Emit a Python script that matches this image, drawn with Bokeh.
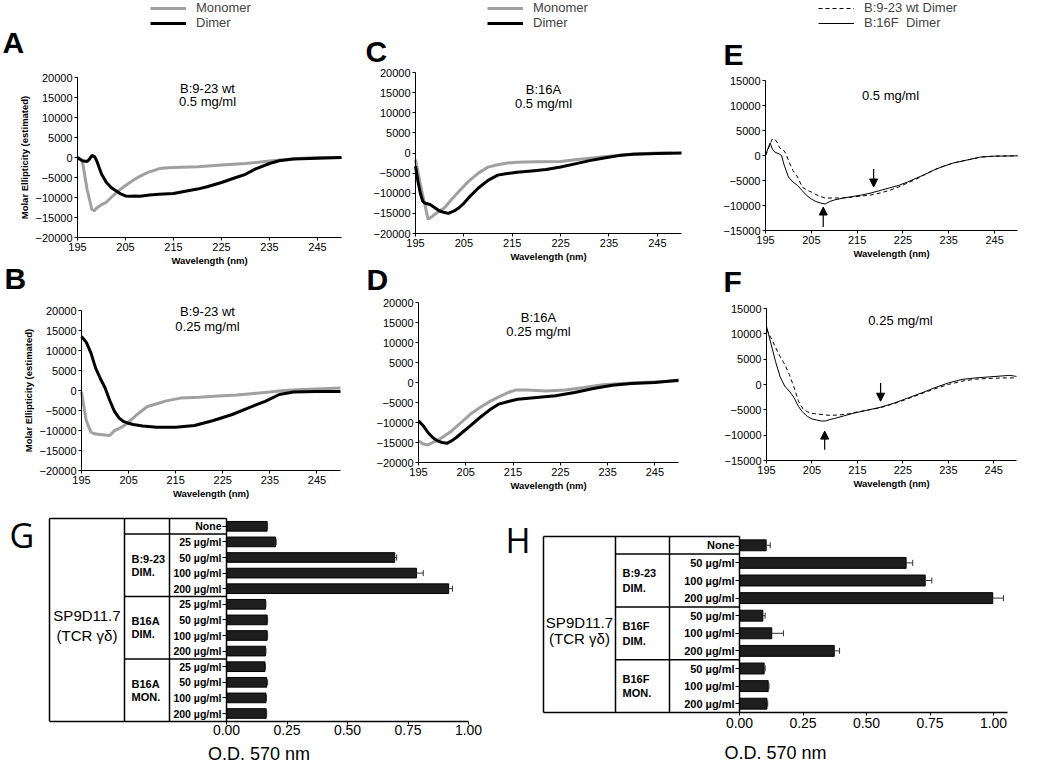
from bokeh.plotting import figure
from bokeh.models import (Range1d, FixedTicker, Label, Legend, LegendItem, Arrow, LinearAxis,
                          NormalHead, Whisker, TeeHead, ColumnDataSource, NumeralTickFormatter)
from bokeh.embed import file_html
from bokeh.resources import INLINE

# ---------------- data ----------------
WL_TICKS = [195, 205, 215, 225, 235, 245]

A_mono_wl = [195, 196, 197, 198, 198.5, 199, 200, 201, 202, 203, 204, 205, 206, 207, 208, 209, 210, 211, 212, 213, 215, 220, 225, 230, 235, 240, 245, 250]
A_mono = [0, -800, -8000, -13000, -13300, -12600, -11800, -11200, -10000, -8900, -7900, -7000, -6200, -5400, -4700, -4100, -3600, -3200, -2800, -2600, -2500, -2300, -1900, -1500, -900, -300, 0, 0]
A_dim_wl = [195, 196, 197, 197.5, 198, 198.5, 199, 200, 201, 202, 203, 204, 205, 206, 207, 208, 210, 212, 215, 218, 220, 222, 225, 228, 230, 232, 235, 237, 240, 245, 250]
A_dim = [0, -800, -1000, -400, 500, 300, -800, -4100, -6200, -7500, -8300, -9100, -9600, -9700, -9600, -9700, -9400, -9200, -9000, -8300, -7900, -7300, -6250, -5000, -4200, -2900, -1500, -800, -400, -200, 0]

B_mono_wl = [195, 196, 197, 198, 199, 200, 201, 202, 203, 204, 205, 207, 209, 211, 213, 216, 220, 224, 228, 231, 235, 238, 242, 250]
B_mono = [-400, -7500, -10400, -10900, -11000, -11100, -11250, -10000, -9500, -8800, -7900, -5800, -4000, -3300, -2600, -1900, -1700, -1400, -1100, -800, -400, 0, 250, 600]
B_dim_wl = [195, 196, 197, 198, 199, 200, 201, 202, 203, 204, 205, 206, 208, 211, 215, 219, 223, 227, 231, 234, 237, 240, 245, 250]
B_dim = [13500, 12100, 9400, 5600, 3000, 700, -2500, -5200, -6900, -7800, -8200, -8500, -8900, -9200, -9200, -8750, -7500, -6000, -4100, -2700, -1000, -400, -250, -250]

C_mono_wl = [195, 196, 197, 197.6, 198.5, 199.5, 201, 202.5, 204, 206, 208, 210, 212, 214, 216, 220, 225, 228, 232, 236, 240, 245, 248]
C_mono = [-1650, -7800, -13200, -16500, -15700, -14800, -13600, -11500, -9500, -7000, -5000, -3500, -2900, -2500, -2300, -2200, -2100, -1650, -1200, -660, -250, 0, 0]
C_dim_wl = [195, 195.5, 196, 196.5, 197, 198, 199, 200, 201, 201.8, 203, 204, 205, 206, 208, 210, 212, 214, 216, 219, 222, 225, 228, 231, 234, 237, 240, 245, 250]
C_dim = [-3300, -7000, -10000, -12000, -12500, -12800, -13600, -14400, -14800, -15000, -14400, -13600, -12500, -11100, -8700, -6800, -5500, -5100, -4800, -4450, -4100, -3500, -2700, -1900, -1250, -650, -330, -100, 0]

D_mono_wl = [195, 196, 197, 198, 199, 200, 202, 204, 206, 208, 210, 212, 214, 215.5, 218, 222, 226, 230, 234, 238, 242, 246, 250]
D_mono = [-14600, -15400, -15600, -15000, -14400, -13750, -12100, -10000, -7900, -6250, -4800, -3600, -2500, -1900, -1900, -2100, -1900, -1250, -580, -250, 0, 170, 420]
D_dim_wl = [195, 196, 197, 198, 199, 200, 201, 202, 203, 204, 206, 208, 210, 212, 214, 216, 220, 224, 228, 232, 236, 240, 245, 250]
D_dim = [-9600, -10800, -12500, -13750, -14600, -15000, -15200, -14600, -13750, -12750, -10800, -8750, -6900, -5400, -4750, -4200, -3750, -3300, -2500, -1500, -670, -250, 0, 580]

E_wt_wl = [195, 195.5, 196, 196.5, 197, 197.5, 198, 198.5, 199, 199.5, 200, 201, 202, 203, 204, 205, 206, 207, 208, 210, 212, 214, 216, 218, 220, 222, 224, 226, 228, 230, 232, 234, 236, 238, 240, 242, 245, 250]
E_wt = [0, 1000, 2300, 3300, 3300, 2700, 1700, 1100, 1000, 300, -1000, -3000, -4300, -6300, -6900, -7300, -7800, -8200, -8500, -8500, -8500, -8300, -8100, -7900, -7500, -7000, -6300, -5500, -4700, -3700, -2800, -2100, -1500, -1100, -700, -300, -130, -70]
E_f_wl = [195, 195.5, 196, 196.5, 197, 198, 198.5, 199, 200, 201, 202, 203, 204, 205, 206, 207, 208, 209, 210, 212, 214, 216, 218, 220, 222, 224, 226, 228, 230, 232, 234, 236, 238, 240, 242, 245, 250]
E_f = [0, 1300, 2500, 1300, 700, 300, 0, -1700, -4300, -5300, -6000, -7000, -8000, -8700, -9200, -9500, -9700, -9200, -8900, -8500, -8200, -7900, -7500, -7000, -6500, -6000, -5300, -4500, -3700, -2800, -2100, -1500, -1100, -700, -300, -130, -70]

F_wt_wl = [195, 196, 197, 198, 199, 200, 201, 202, 203, 204, 205, 207, 209, 211, 213, 215, 217, 220, 223, 226, 229, 232, 235, 238, 241, 244, 247, 250]
F_wt = [10900, 9200, 7300, 5500, 4000, 2000, -400, -3200, -4800, -5400, -5700, -5900, -6100, -6000, -5800, -5400, -5100, -4600, -3800, -2850, -1850, -860, 0, 660, 1050, 1200, 1300, 1300]
F_f_wl = [195, 196, 197, 198, 199, 200, 201, 202, 203, 204, 205, 206, 207, 208, 209, 210, 212, 214, 217, 220, 223, 226, 229, 232, 235, 238, 241, 244, 247, 248.5, 250]
F_f = [11500, 8000, 4500, 1500, -300, -1300, -2500, -4300, -5500, -6300, -6800, -7000, -7200, -7200, -6900, -6700, -6200, -5700, -5100, -4500, -3700, -2700, -1700, -650, 300, 1000, 1300, 1500, 1700, 1800, 1600]

# arrows: (wavelength, y_start, y_end)
E_arrows = [(218.6, -2700, -6300), (207.6, -14300, -10300)]
F_arrows = [(220.1, 300, -3300), (207.8, -12900, -9200)]

G_rows = ["None", "25 \u00b5g/ml", "50 \u00b5g/ml", "100 \u00b5g/ml", "200 \u00b5g/ml",
          "25 \u00b5g/ml", "50 \u00b5g/ml", "100 \u00b5g/ml", "200 \u00b5g/ml",
          "25 \u00b5g/ml", "50 \u00b5g/ml", "100 \u00b5g/ml", "200 \u00b5g/ml"]
G_vals = [0.168, 0.203, 0.695, 0.785, 0.918, 0.161, 0.168, 0.168, 0.161, 0.159, 0.166, 0.163, 0.164]
G_err = [0.002, 0.002, 0.008, 0.028, 0.016, 0.002, 0.002, 0.002, 0.002, 0.002, 0.004, 0.002, 0.002]
G_groups = [("B:9-23", "DIM.", 1, 4), ("B16A", "DIM.", 5, 8), ("B16A", "MON.", 9, 12)]

H_rows = ["None", "50 \u00b5g/ml", "100 \u00b5g/ml", "200 \u00b5g/ml",
          "50 \u00b5g/ml", "100 \u00b5g/ml", "200 \u00b5g/ml",
          "50 \u00b5g/ml", "100 \u00b5g/ml", "200 \u00b5g/ml"]
H_vals = [0.105, 0.656, 0.731, 0.997, 0.092, 0.127, 0.373, 0.097, 0.113, 0.108]
H_err = [0.016, 0.026, 0.026, 0.042, 0.009, 0.046, 0.021, 0.004, 0.003, 0.003]
H_groups = [("B:9-23", "DIM.", 1, 3), ("B16F", "DIM.", 4, 6), ("B16F", "MON.", 7, 9)]

OD_TICKS = [0, 0.25, 0.5, 0.75, 1.0]

SANS = "Liberation Sans"
GRAY = "#a0a0a0"
W, H = 1048, 778

# One canvas; the default ranges are page pixels (y downwards); each panel has its own ranges.
p = figure(width=W, height=H, x_range=Range1d(0, W), y_range=Range1d(H, 0),
           output_backend="svg", toolbar_location=None, min_border=0,
           x_axis_type=None, y_axis_type=None)
p.outline_line_color = None


def text(x, y, s, size, bold=False, align="left", baseline="middle", font=SANS, xr="default", yr="default"):
    p.add_layout(Label(x=x, y=y, text=s, text_font=font, text_font_size=size,
                       text_font_style="bold" if bold else "normal", text_align=align,
                       text_baseline=baseline, text_color="black",
                       x_range_name=xr, y_range_name=yr))


def style_axis(ax, tick_size, tick_out, tick_standoff, lab_size, lab_bold, lab_standoff, lw=1):
    ax.major_label_text_font = SANS
    ax.major_label_text_font_size = tick_size
    ax.major_label_text_color = "black"
    ax.axis_line_color = "black"
    ax.axis_line_width = lw
    ax.major_tick_line_color = "black"
    ax.major_tick_line_width = 1
    ax.minor_tick_line_color = None
    ax.major_tick_in = 0
    ax.major_tick_out = tick_out
    ax.major_label_standoff = tick_standoff
    ax.axis_label_text_font = SANS
    ax.axis_label_text_font_style = "bold" if lab_bold else "normal"
    ax.axis_label_text_font_size = lab_size
    ax.axis_label_text_color = "black"
    ax.axis_label_standoff = lab_standoff


def cd_panel(name, FL, FR, FT, FB, ylo, yhi, ystep, ylabel=None):
    s = (FR - FL) / 55.0
    k = (yhi - ylo) / float(FB - FT)
    xn, yn = name + "x", name + "y"
    p.extra_x_ranges[xn] = Range1d(195 - FL / s, 195 + (W - FL) / s)
    p.extra_y_ranges[yn] = Range1d(ylo + (FB - H) * k, ylo + FB * k)
    xa = LinearAxis(x_range_name=xn, y_range_name=yn, fixed_location=ylo, bounds=(195, 250),
                    ticker=FixedTicker(ticks=WL_TICKS), axis_label="Wavelength (nm)")
    style_axis(xa, "11px", 3, 2, "9.5px", True, 1)
    p.add_layout(xa, "below")
    ya = LinearAxis(x_range_name=xn, y_range_name=yn, fixed_location=195, bounds=(ylo, yhi),
                    ticker=FixedTicker(ticks=list(range(ylo, yhi + 1, ystep))),
                    axis_label=ylabel)
    style_axis(ya, "11px", 3, 2, "9.5px", True, 2)
    p.add_layout(ya, "left")
    return xn, yn


def mono_dimer(rn, mwl, mv, dwl, dv):
    xn, yn = rn
    rm = p.line(mwl, mv, line_color=GRAY, line_width=3, x_range_name=xn, y_range_name=yn)
    rd = p.line(dwl, dv, line_color="black", line_width=3, x_range_name=xn, y_range_name=yn)
    return rm, rd


def dimer_pair(rn, wwl, wv, fwl, fv, arrows):
    xn, yn = rn
    rw = p.line(wwl, wv, line_color="black", line_width=1, line_dash="4 3", x_range_name=xn, y_range_name=yn)
    rf = p.line(fwl, fv, line_color="black", line_width=1, x_range_name=xn, y_range_name=yn)
    for (x, y0, y1) in arrows:
        p.add_layout(Arrow(x_start=x, y_start=y0, x_end=x, y_end=y1, line_width=1.2,
                           line_color="black", x_range_name=xn, y_range_name=yn,
                           end=NormalHead(size=8, fill_color="black", line_color="black")))
    return rw, rf


def legend(labels, renderers, left_px, bottom_px):
    leg = Legend(items=[LegendItem(label=l, renderers=[r]) for l, r in zip(labels, renderers)],
                 location=(left_px, H - bottom_px), border_line_color=None,
                 background_fill_alpha=0, padding=0, margin=0, spacing=0,
                 label_height=14, glyph_height=14, glyph_width=36, label_standoff=10,
                 label_text_font=SANS, label_text_font_size="13px")
    p.add_layout(leg)


YLAB = "Molar Ellipticity (estimated)"

# ---- A ----
rA = cd_panel("A", 77, 341, 77, 237, -20000, 20000, 5000, YLAB)
rm, rd = mono_dimer(rA, A_mono_wl, A_mono, A_dim_wl, A_dim)
legend(["Monomer", "Dimer"], [rm, rd], 150, 30)
text(2, 42, "A", "30px", bold=True)
text(207, 88, "B:9-23 wt", "13px", align="center")
text(207, 101, "0.5 mg/ml", "13px", align="center")

# ---- C ----
rC = cd_panel("C", 415, 681, 72, 233, -20000, 20000, 5000)
rm, rd = mono_dimer(rC, C_mono_wl, C_mono, C_dim_wl, C_dim)
legend(["Monomer", "Dimer"], [rm, rd], 487, 30)
text(365, 51, "C", "30px", bold=True)
text(543, 89, "B:16A", "13px", align="center")
text(543, 103, "0.5 mg/ml", "13px", align="center")

# ---- E ----
rE = cd_panel("E", 765, 1017, 80, 230, -15000, 15000, 5000)
rw, rf = dimer_pair(rE, E_wt_wl, E_wt, E_f_wl, E_f, E_arrows)
legend(["B:9-23 wt Dimer", "B:16F  Dimer"], [rw, rf], 818, 30)
text(723, 54, "E", "30px", bold=True)
text(890, 95, "0.5 mg/ml", "13px", align="center")

# ---- B ----
rB = cd_panel("B", 81, 340, 310, 470, -20000, 20000, 5000, YLAB)
mono_dimer(rB, B_mono_wl, B_mono, B_dim_wl, B_dim)
text(4, 278, "B", "30px", bold=True)
text(207, 311, "B:9-23 wt", "13px", align="center")
text(207, 326, "0.25 mg/ml", "13px", align="center")

# ---- D ----
rD = cd_panel("D", 418, 678, 302, 462, -20000, 20000, 5000)
mono_dimer(rD, D_mono_wl, D_mono, D_dim_wl, D_dim)
text(366, 279, "D", "30px", bold=True)
text(538, 317, "B:16A", "13px", align="center")
text(538, 331, "0.25 mg/ml", "13px", align="center")

# ---- F ----
rF = cd_panel("F", 766, 1016, 308, 460, -15000, 15000, 5000)
dimer_pair(rF, F_wt_wl, F_wt, F_f_wl, F_f, F_arrows)
text(723, 281, "F", "30px", bold=True)
text(900, 320, "0.25 mg/ml", "13px", align="center")


# ---- bar panels ----
def bar_panel(name, t_left, col2, col3, zero, unit, t_top, row_h, x_end_px,
              rows, vals, errs, groups, sp_y, tick_standoff, lab_standoff, row_font):
    n = len(rows)

    def xd(px):
        return (px - zero) / unit

    def yd(py):
        return (py - t_top) / row_h - 0.5

    xn, yn = name + "x", name + "y"
    p.extra_x_ranges[xn] = Range1d(xd(0), xd(W))
    p.extra_y_ranges[yn] = Range1d(yd(H), yd(0))
    kw = dict(x_range_name=xn, y_range_name=yn)

    ys = list(range(n))
    src = ColumnDataSource(dict(y=ys, v=vals, hi=[v + e for v, e in zip(vals, errs)]))
    p.hbar(y="y", left=0, right="v", height=0.62, source=src, fill_color="#1e1e1e",
           line_color="black", line_width=1, **kw)
    p.add_layout(Whisker(source=src, base="y", lower="v", upper="hi", dimension="width",
                         lower_head=None,
                         upper_head=TeeHead(size=6, line_color="#333333", line_width=1),
                         line_color="#333333", line_width=1, level="overlay", **kw))

    # table frame
    top, bot = -0.5, n - 0.5
    vx = [xd(t_left), xd(col2), xd(col3)]
    p.segment(x0=vx, y0=[top] * 3, x1=vx, y1=[bot] * 3, line_color="black", line_width=1.5, **kw)
    seps = [0.5] + [g[3] + 0.5 for g in groups[:-1]]
    p.segment(x0=[xd(t_left)] + [xd(col2)] * len(seps), y0=[top] + seps,
              x1=[0] * (len(seps) + 1), y1=[top] + seps, line_color="black", line_width=1.5, **kw)

    for (g1, g2, a, b) in groups:
        c = (a + b) / 2
        text(xd(col2 + 7), c - 0.42, g1, "11px", bold=True, xr=xn, yr=yn)
        text(xd(col2 + 7), c + 0.42, g2, "11px", bold=True, xr=xn, yr=yn)
    cx = xd((t_left + col2) / 2)
    text(cx, yd(sp_y[0]), "SP9D11.7", "15px", align="center", xr=xn, yr=yn)
    text(cx, yd(sp_y[1]), "(TCR \u03b3\u03b4)", "15px", align="center", xr=xn, yr=yn)

    xa = LinearAxis(fixed_location=bot, bounds=(xd(t_left), xd(x_end_px)),
                    ticker=FixedTicker(ticks=OD_TICKS), formatter=NumeralTickFormatter(format="0.00"),
                    axis_label="O.D. 570 nm", **kw)
    style_axis(xa, "14px", 3, tick_standoff, "18px", False, lab_standoff, lw=1.5)
    p.add_layout(xa, "below")

    ya = LinearAxis(fixed_location=0, bounds=(top, bot), ticker=FixedTicker(ticks=ys),
                    major_label_overrides={i: r for i, r in enumerate(rows)}, **kw)
    style_axis(ya, row_font, 4, 1, "10px", False, 2, lw=1.5)
    ya.major_label_text_font_style = "bold"
    p.add_layout(ya, "left")


bar_panel("G", 49, 124, 169, 226, 242, 518, 15.6, 468,
          G_rows, G_vals, G_err, G_groups, (615, 635), 1, 5, "10.5px")
text(9, 534, "G", "34px", font="Open Sans")

bar_panel("H", 543, 615, 669, 739, 254, 536, 17.6, 1007,
          H_rows, H_vals, H_err, H_groups, (622, 638), 2, 12, "11px")
text(505, 539, "H", "34px", font="Open Sans")

open("out.html", "w").write(file_html(p, INLINE))
